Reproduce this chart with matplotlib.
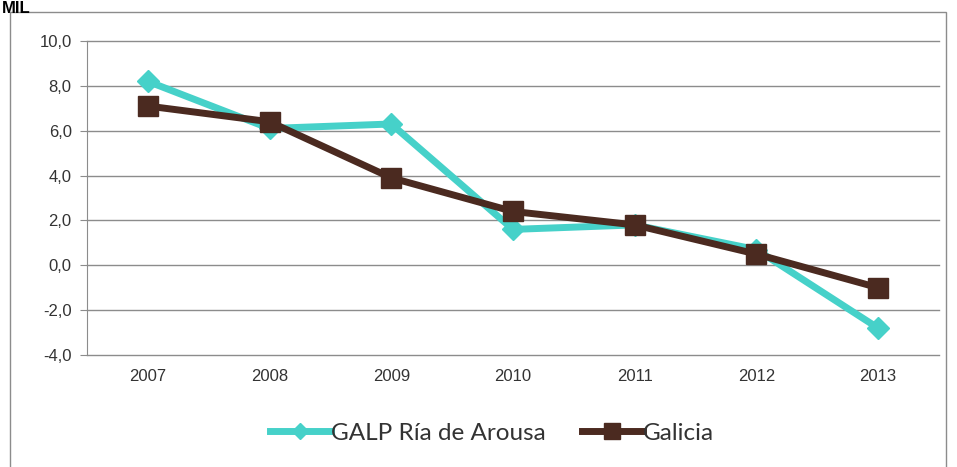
import matplotlib.pyplot as plt
from matplotlib.patches import Rectangle
from matplotlib.lines import Line2D

years = ['2007', '2008', '2009', '2010', '2011', '2012', '2013']
galp = [8.2, 6.1, 6.3, 1.6, 1.8, 0.7, -2.8]
galicia = [7.1, 6.4, 3.9, 2.4, 1.8, 0.5, -1.0]
y_ticks = [-4, -2, 0, 2, 4, 6, 8, 10]
y_labels = ['-4,0', '-2,0', '0,0', '2,0', '4,0', '6,0', '8,0', '10,0']

cyan = '#46d1c9'
brown = '#4b2a20'

fig = plt.figure(figsize=(9.57, 4.67), dpi=100)

# outer frame of the chart object
fig.patches.append(Rectangle((10 / 957, -0.01), 936 / 957, 1 - 12 / 467 + 0.01,
                             transform=fig.transFigure, fill=False,
                             edgecolor='#8c8c8c', linewidth=1))
fig.text(2 / 957, 1 - 1 / 467, 'MIL', fontsize=12, fontweight='bold',
         va='top', ha='left', family='Liberation Sans')

ax = fig.add_axes([87 / 957, 1 - 355 / 467, 852 / 957, 314 / 467])
x = list(range(len(years)))

ax.plot(x, galp, color=cyan, linewidth=5, marker='D', markersize=11,
        zorder=3)
ax.plot(x, galicia, color=brown, linewidth=5, marker='s', markersize=15,
        zorder=4)

ax.set_xlim(-0.5, len(years) - 0.5)
ax.set_ylim(-4, 10)
ax.set_xticks(x)
ax.set_xticklabels(years)
ax.set_yticks(y_ticks)
ax.set_yticklabels(y_labels)
for v in y_ticks:
    ax.axhline(v, color='#8c8c8c', linewidth=1, zorder=1, clip_on=False)
for s in ['top', 'right', 'bottom']:
    ax.spines[s].set_visible(False)
ax.spines['left'].set_color('#8c8c8c')
ax.tick_params(axis='y', length=5, color='#8c8c8c', labelsize=12, pad=6)
ax.tick_params(axis='x', length=0, labelsize=12, pad=10)
for lab in ax.get_xticklabels() + ax.get_yticklabels():
    lab.set_family('Liberation Sans')
    lab.set_color('#333333')

handles = [
    Line2D([], [], color=cyan, linewidth=5, marker='D', markersize=8),
    Line2D([], [], color=brown, linewidth=5, marker='s', markersize=11),
]
leg = ax.legend(handles, ['GALP Ría de Arousa', 'Galicia'],
                loc='center', bbox_to_anchor=(0.475, (355 - 433) / 314), ncol=2,
                frameon=False, handlelength=2.5, columnspacing=1.5,
                handletextpad=0.0, prop={'family': 'Lato', 'size': 17.5})
for t in leg.get_texts():
    t.set_color('#333333')

plt.savefig('out.png', dpi=100)
